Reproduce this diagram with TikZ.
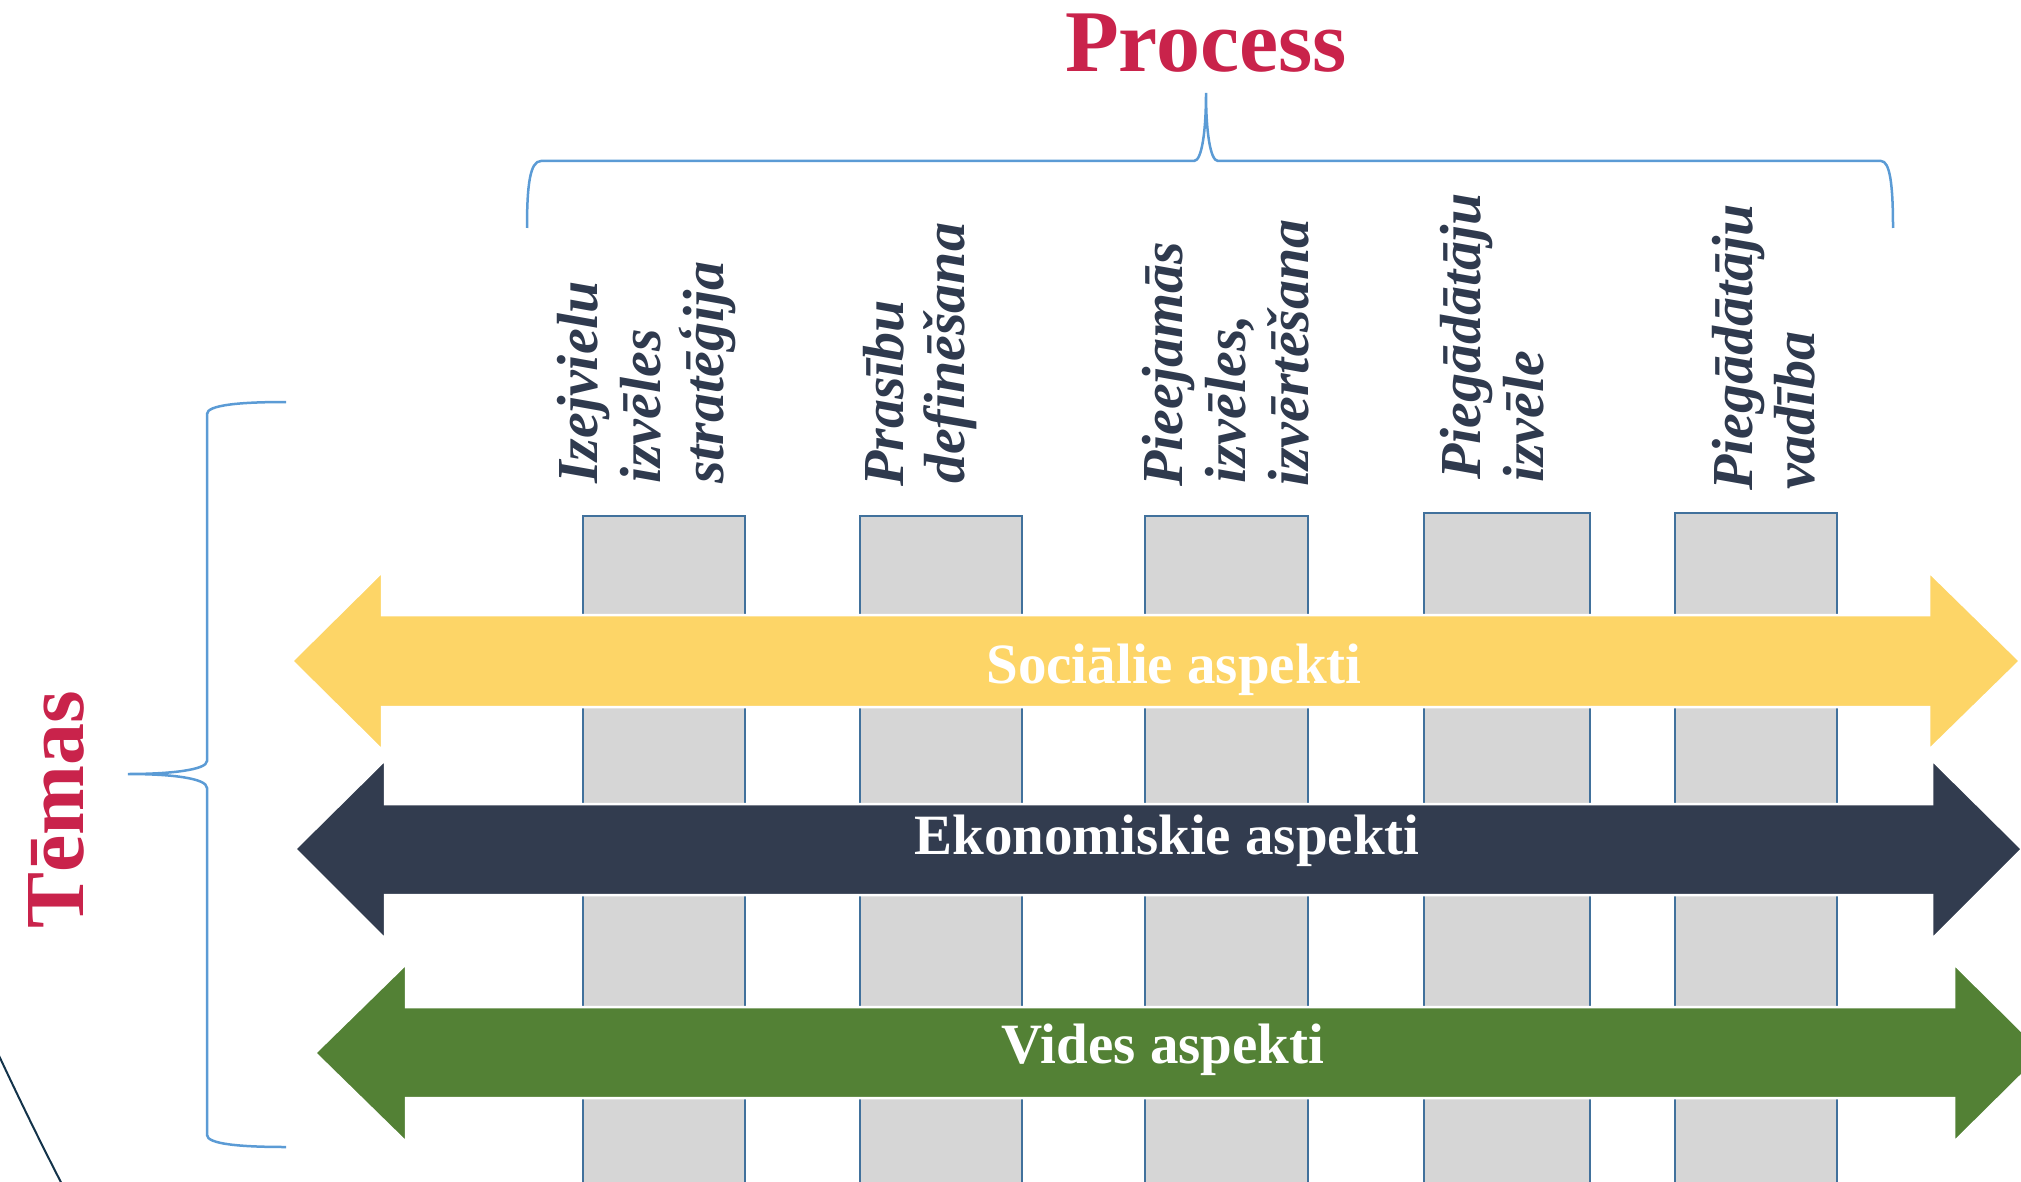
\documentclass[tikz,border=0pt]{standalone}
\usepackage{fontspec}
\setmainfont{Liberation Serif}
\definecolor{crimson}{HTML}{C9234B}
\definecolor{navy}{HTML}{2F3A4E}
\definecolor{darkband}{HTML}{323C4F}
\definecolor{yellowband}{HTML}{FDD567}
\definecolor{greenband}{HTML}{538135}
\definecolor{colgray}{HTML}{D6D6D6}
\definecolor{colblue}{HTML}{41719C}
\definecolor{braceblue}{HTML}{5B9BD5}
\definecolor{arccol}{HTML}{13334A}
\begin{document}
\begin{tikzpicture}[x=1pt,y=-1pt,
  colbox/.style={fill=colgray, draw=colblue, line width=2.5pt},
  band/.style={draw=white, line width=2.5pt, line join=miter},
  bracepath/.style={draw=braceblue, line width=2.5pt},
  lbl/.style={rotate=90, anchor=base west, inner sep=0pt, text=navy,
    font=\fontsize{58}{58}\selectfont\bfseries\itshape},
  bandtxt/.style={text=white, anchor=base, inner sep=0pt,
    font=\fontsize{57}{57}\selectfont\bfseries},
  titletxt/.style={text=crimson, anchor=base, inner sep=0pt,
    font=\fontsize{88}{88}\selectfont\bfseries}]
\useasboundingbox (0,0) rectangle (2021,1182);
\clip (0,0) rectangle (2021,1182);

% columns
\path[colbox] (583,516) rectangle (745,1200);
\path[colbox] (860,516) rectangle (1022,1200);
\path[colbox] (1145,516) rectangle (1308,1200);
\path[colbox] (1424,513) rectangle (1590,1200);
\path[colbox] (1675,513) rectangle (1837,1200);

% theme arrows
\path[band, fill=yellowband] (292,661) -- (382,572) -- (382,615) -- (1929,615) -- (1929,572)
  -- (2020,661) -- (1929,750) -- (1929,707) -- (382,707) -- (382,750) -- cycle;
\path[band, fill=darkband] (295,849) -- (385,760) -- (385,804) -- (1932,804) -- (1932,760)
  -- (2022,849) -- (1932,939) -- (1932,895) -- (385,895) -- (385,939) -- cycle;
\path[band, fill=greenband] (315,1053) -- (406,964) -- (406,1007) -- (1954,1007) -- (1954,964)
  -- (2044,1053) -- (1954,1142) -- (1954,1098) -- (406,1098) -- (406,1142) -- cycle;

\node[bandtxt] (soc) at (1174,683) {Sociālie aspekti};
\node[bandtxt] (eko) at (1167,854) {Ekonomiskie aspekti};
\node[bandtxt] (vid) at (1163,1063) {Vides aspekti};

% titles
\node[titletxt] (proc) at (1206,72) {Process};
\node[titletxt, rotate=90, font=\fontsize{84}{84}\selectfont\bfseries] (tem) at (83,810) {Tēmas};

% braces
\path[bracepath] (527,228) .. controls (527,185) and (530,161) .. (541,161) -- (1194,161)
  .. controls (1202,161) and (1206,130) .. (1206,93)
  .. controls (1206,130) and (1210,161) .. (1218,161) -- (1881,161)
  .. controls (1890,161) and (1893,185) .. (1893,228);
\path[bracepath] (286,402) .. controls (240,402) and (207,405) .. (207,414) -- (207,761)
  .. controls (207,770) and (170,774) .. (128,774)
  .. controls (170,774) and (207,778) .. (207,788) -- (207,1135)
  .. controls (207,1144) and (240,1147) .. (286,1147);

% process step labels
\node[lbl] (c1a) at (597,484) {Izejvielu};
\node[lbl] (c1b) at (660,484) {izvēles};
\node[lbl] (c1c) at (723,484) {stratēģija};
\node[lbl] (c2a) at (903,487) {Prasību};
\node[lbl] (c2b) at (964,484) {definēšana};
\node[lbl] (c3a) at (1182,487) {Pieejamās};
\node[lbl] (c3b) at (1245,484) {izvēles,};
\node[lbl] (c3c) at (1308,487) {izvērtēšana};
\node[lbl] (c4a) at (1480,480) {Piegādātāju};
\node[lbl] (c4b) at (1543,483) {izvēle};
\node[lbl] (c5a) at (1752,491) {Piegādātāju};
\node[lbl] (c5b) at (1814,490) {vadība};

% decorative arc
\draw[arccol, line width=2pt] (-6,1045) .. controls (15,1090) and (38,1138) .. (66,1192);
\end{tikzpicture}
\end{document}
